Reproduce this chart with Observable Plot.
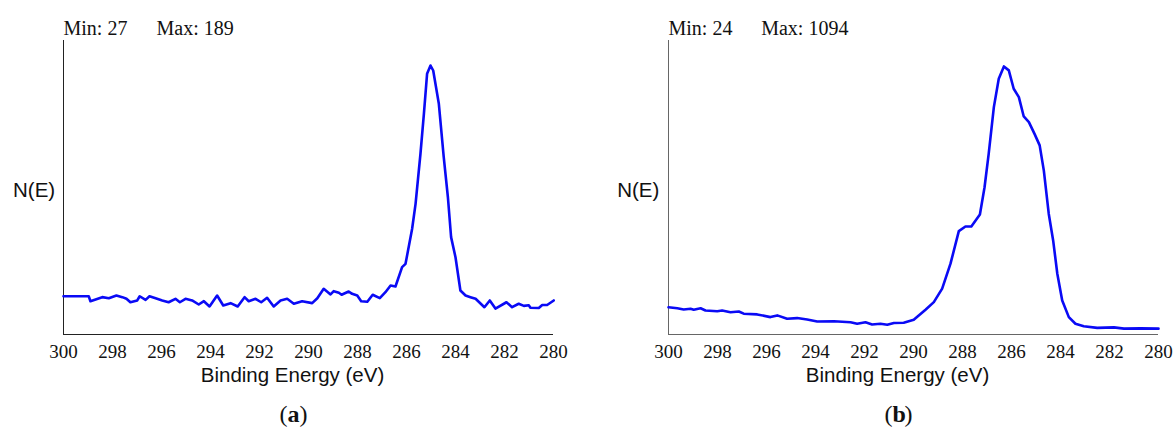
<!DOCTYPE html>
<html>
<head>
<meta charset="utf-8">
<script src="https://cdn.jsdelivr.net/npm/d3@7"></script>
<script src="https://cdn.jsdelivr.net/npm/@observablehq/plot@0.6"></script>
<style>
  body { margin: 0; background: #fff; }
  #wrap { position: relative; width: 1175px; height: 428px; overflow: hidden; background: #fff; }
</style>
</head>
<body>
<div id="wrap"></div>
<script>
// ---- Data ----
const energyTicks = [300, 298, 296, 294, 292, 290, 288, 286, 284, 282, 280];

const leftEnergy = [300, 298.97, 298.90, 298.42, 298.15, 297.84, 297.60, 297.43, 297.27, 296.99, 296.89, 296.65, 296.49, 296.24, 295.97, 295.71, 295.43, 295.25, 295.02, 294.75, 294.48, 294.27, 294.04, 293.73, 293.48, 293.18, 292.89, 292.61, 292.44, 292.16, 291.93, 291.69, 291.42, 291.14, 290.87, 290.60, 290.26, 289.85, 289.64, 289.38, 289.10, 288.97, 288.76, 288.65, 288.36, 288.22, 288.01, 287.85, 287.60, 287.38, 287.09, 286.86, 286.65, 286.45, 286.18, 286.04, 285.77, 285.63, 285.43, 285.29, 285.16, 285.02, 284.91, 284.68, 284.48, 284.31, 284.18, 284.00, 283.80, 283.59, 283.39, 283.18, 282.82, 282.60, 282.37, 281.92, 281.69, 281.42, 281.21, 281.01, 280.94, 280.60, 280.46, 280.26, 279.99];
const leftCounts = [35.2, 35.2, 31.9, 34.6, 33.9, 35.7, 34.6, 33.5, 31.2, 32.4, 35.2, 32.8, 35.2, 33.9, 32.4, 31.2, 33.5, 31.2, 33.5, 32.4, 29.7, 31.9, 28.4, 35.7, 29.0, 30.6, 28.4, 34.6, 31.9, 33.5, 31.2, 34.2, 28.4, 32.4, 33.5, 30.2, 31.9, 30.6, 33.9, 40.2, 36.4, 38.6, 37.5, 36.2, 38.4, 36.8, 35.7, 31.9, 31.5, 36.2, 33.9, 37.9, 42.4, 41.7, 54.6, 56.8, 80.2, 96.8, 130.2, 156.8, 183.5, 189, 185.7, 163.5, 127.9, 101.2, 74.6, 61.2, 39.0, 35.7, 34.6, 33.5, 27.9, 32.4, 27, 31.2, 27.9, 30.2, 28.8, 29.2, 27.5, 27.4, 29.4, 29.4, 32.4];
const leftYDomain = [9.7, 205.7];
const leftMin = 27, leftMax = 189;

const rightEnergy = [300, 299.64, 299.38, 299.10, 298.97, 298.69, 298.49, 298.01, 297.81, 297.47, 297.13, 296.93, 296.38, 295.84, 295.56, 295.16, 294.75, 294.34, 293.93, 293.25, 292.57, 292.30, 291.96, 291.69, 291.35, 291.07, 290.80, 290.40, 289.99, 289.51, 289.17, 288.83, 288.49, 288.15, 287.88, 287.64, 287.29, 287.10, 286.93, 286.72, 286.52, 286.31, 286.11, 285.91, 285.70, 285.50, 285.29, 285.06, 284.85, 284.68, 284.48, 284.30, 284.13, 283.93, 283.66, 283.39, 283.05, 282.50, 281.82, 281.41, 280.73, 280.00];
const rightCounts = [111, 107, 102, 105, 101, 107, 98, 95, 98, 91, 94, 85, 82, 71, 78, 64, 67, 61, 53, 54, 50, 44, 50, 41, 44, 40, 47, 48, 60, 101, 132, 187, 289, 422, 441, 441, 490, 601, 738, 928, 1044, 1094, 1078, 1003, 969, 890, 867, 819, 772, 669, 493, 384, 248, 139, 71, 44, 34, 27, 29, 24, 25, 24];
const rightYDomain = [0, 1200];
const rightMin = 24, rightMax = 1094;

const panelLabels = ["a", "b"];
const yLabel = "N(E)";
const xLabel = "Binding Energy (eV)";

// ---- Drawing ----
const wrap = document.getElementById("wrap");
const SERIF = "Liberation Serif";
const SANS = "Liberation Sans";

function note(str, dx, dy, opts) {
  return Plot.text([str], {text: d => d, frameAnchor: "top-left", lineAnchor: "top", textAnchor: "start",
                           dx, dy, fill: "#111", ...opts});
}

function panel(energy, counts, yDomain, frameColor, width, marginRight, left, min, max, tag, maxDx, yLabDx) {
  const data = energy.map((e, i) => ({e, c: counts[i]}));
  const chart = Plot.plot({
    width, height: 428,
    marginLeft: 63, marginRight, marginTop: 40, marginBottom: 94,
    x: {domain: [300, 280], axis: null, label: null},
    y: {domain: yDomain, axis: null, label: null},
    marks: [
      Plot.text(energyTicks, {x: d => d, frameAnchor: "bottom", lineAnchor: "top", dy: 10,
                text: d => String(d), fill: "#111", fontFamily: SERIF, fontSize: 19}),
      Plot.ruleX([300], {stroke: frameColor, strokeWidth: 1}),
      Plot.ruleY([yDomain[0]], {stroke: frameColor, strokeWidth: 1}),
      Plot.line(data, {x: "e", y: "c", stroke: "#0a0af5", strokeWidth: 2.6, strokeLinejoin: "round"}),
      note(`Min: ${min}`, 0, -20.2, {fontFamily: SERIF, fontSize: 20}),
      note(`Max: ${max}`, maxDx, -20.2, {fontFamily: SERIF, fontSize: 20}),
      note(yLabel, yLabDx, 142.1, {fontFamily: SANS, fontSize: 20.5}),
      note(xLabel, 229, 326.5, {fontFamily: SANS, fontSize: 20.5, textAnchor: "middle"}),
      note("(", 216, 364, {fontFamily: SERIF, fontSize: 24}),
      note(tag, 224, 364, {fontFamily: SERIF, fontSize: 24, fontWeight: "bold"}),
      note(")", 236, 364, {fontFamily: SERIF, fontSize: 24})
    ]
  });
  chart.style.position = "absolute";
  chart.style.left = left + "px";
  chart.style.top = "0px";
  chart.style.background = "transparent";
  chart.style.overflow = "visible";
  wrap.appendChild(chart);
  chart.querySelector("text").getBoundingClientRect();
}

panel(leftEnergy, leftCounts, leftYDomain, "#222", 580, 27, 0, leftMin, leftMax, panelLabels[0], 93, -50.5);
panel(rightEnergy, rightCounts, rightYDomain, "#666", 570, 17, 605, rightMin, rightMax, panelLabels[1], 92.7, -51.3);
</script>
</body>
</html>
